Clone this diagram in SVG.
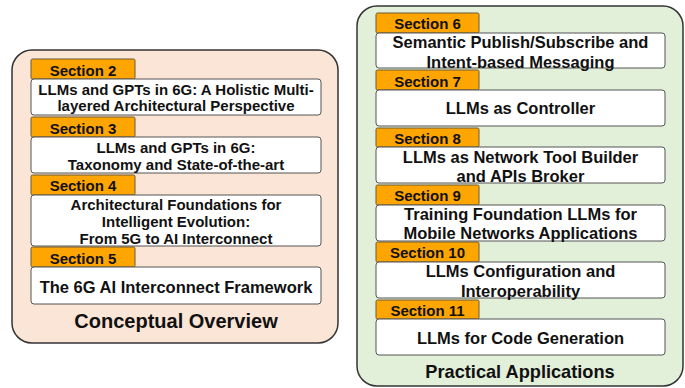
<svg xmlns="http://www.w3.org/2000/svg" width="685" height="388" viewBox="0 0 685 388">
<style>
text{font-family:"Liberation Sans",Arial,sans-serif;font-weight:bold;fill:#111;text-anchor:middle}
.tab{fill:#ffa500;stroke:#6b5a3a;stroke-width:1}
.box{fill:#fff;stroke:#555;stroke-width:1}
.tt{font-size:15px}
.bt{font-size:15px}
.bt2{font-size:16.5px}
.title{font-size:20px}
</style>
<rect width="685" height="388" fill="#fff"/>
<g id="conceptual">
<rect x="12" y="50" width="326" height="293" rx="20" fill="#fbe5d6" stroke="#333" stroke-width="1.5"/>
<text class="title" x="176" y="328.3">Conceptual Overview</text>
</g>
<g id="practical">
<rect x="357" y="6" width="326" height="380" rx="20" fill="#e2efd9" stroke="#333" stroke-width="1.5"/>
<text class="title" x="520" y="378" style="font-size:18.2px">Practical Applications</text>
</g>
<g id="s2">
<rect class="tab" x="31" y="59" width="104" height="20" rx="1.5"/>
<text class="tt" x="83" y="76">Section 2</text>
<rect class="box" x="31" y="79" width="290" height="36" rx="3"/>
<text class="bt" x="176" y="95">LLMs and GPTs in 6G: A Holistic Multi-</text>
<text class="bt" x="176" y="111">layered Architectural Perspective</text>
</g>
<g id="s3">
<rect class="tab" x="31" y="117" width="104" height="20" rx="1.5"/>
<text class="tt" x="83" y="133.7">Section 3</text>
<rect class="box" x="31" y="137" width="290" height="36" rx="3"/>
<text class="bt" x="176" y="153">LLMs and GPTs in 6G:</text>
<text class="bt" x="176" y="169.5">Taxonomy and State-of-the-art</text>
</g>
<g id="s4">
<rect class="tab" x="31" y="175" width="104" height="20" rx="1.5"/>
<text class="tt" x="83" y="191">Section 4</text>
<rect class="box" x="31" y="195" width="290" height="51" rx="3"/>
<text class="bt" x="176" y="209.5">Architectural Foundations for</text>
<text class="bt" x="176" y="227">Intelligent Evolution:</text>
<text class="bt" x="176" y="244">From 5G to AI Interconnect</text>
</g>
<g id="s5">
<rect class="tab" x="31" y="247" width="104" height="20" rx="1.5"/>
<text class="tt" x="83" y="264.4">Section 5</text>
<rect class="box" x="31" y="267" width="290" height="37" rx="3"/>
<text class="bt2" x="176" y="292.5">The 6G AI Interconnect Framework</text>
</g>
<g id="s6">
<rect class="tab" x="376" y="13" width="103" height="20" rx="1.5"/>
<text class="tt" x="427.5" y="29.4">Section 6</text>
<rect class="box" x="376" y="33" width="289" height="35" rx="3"/>
<text class="bt2" x="520.5" y="47.6">Semantic Publish/Subscribe and</text>
<text class="bt2" x="520.5" y="67.6">Intent-based Messaging</text>
</g>
<g id="s7">
<rect class="tab" x="376" y="70" width="103" height="20" rx="1.5"/>
<text class="tt" x="427.5" y="87">Section 7</text>
<rect class="box" x="376" y="90" width="289" height="36" rx="3"/>
<text class="bt2" x="520.5" y="114.2">LLMs as Controller</text>
</g>
<g id="s8">
<rect class="tab" x="376" y="128" width="103" height="19" rx="1.5"/>
<text class="tt" x="427.5" y="144.4">Section 8</text>
<rect class="box" x="376" y="147" width="289" height="36" rx="3"/>
<text class="bt2" x="520.5" y="162.5">LLMs as Network Tool Builder</text>
<text class="bt2" x="520.5" y="182">and APIs Broker</text>
</g>
<g id="s9">
<rect class="tab" x="376" y="185" width="103" height="20" rx="1.5"/>
<text class="tt" x="427.5" y="201.4">Section 9</text>
<rect class="box" x="376" y="205" width="289" height="36" rx="3"/>
<text class="bt2" x="520.5" y="220">Training Foundation LLMs for</text>
<text class="bt2" x="520.5" y="239">Mobile Networks Applications</text>
</g>
<g id="s10">
<rect class="tab" x="376" y="242" width="103" height="20" rx="1.5"/>
<text class="tt" x="427.5" y="258">Section 10</text>
<rect class="box" x="376" y="262" width="289" height="36" rx="3"/>
<text class="bt2" x="520.5" y="276.5">LLMs Configuration and</text>
<text class="bt2" x="520.5" y="296.5">Interoperability</text>
</g>
<g id="s11">
<rect class="tab" x="376" y="300" width="103" height="19" rx="1.5"/>
<text class="tt" x="427.5" y="316">Section 11</text>
<rect class="box" x="376" y="319" width="289" height="36" rx="3"/>
<text class="bt2" x="520.5" y="344">LLMs for Code Generation</text>
</g>
<g id="connectors"></g>
</svg>
